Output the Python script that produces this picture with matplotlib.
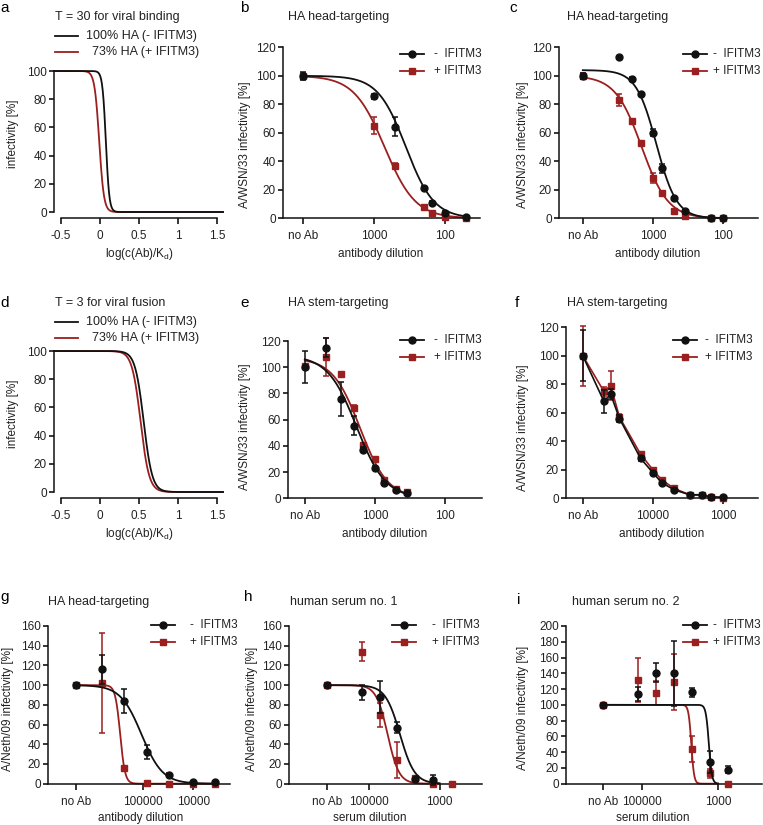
import numpy as np
import matplotlib
matplotlib.use("Agg")
import matplotlib.pyplot as plt
from matplotlib.lines import Line2D
from matplotlib.ticker import NullLocator

plt.rcParams["font.family"] = ["Liberation Sans", "DejaVu Sans"]
plt.rcParams["mathtext.fontset"] = "custom"
plt.rcParams["mathtext.rm"] = "Liberation Sans"

W, H = 763, 825
BLACK = "#111111"
RED = "#9b1f1f"
TXT = "#222222"

# ---- panels a / d: model curves (logistic: midpoint, width) ----
A_TITLE = "T = 30 for viral binding"
D_TITLE = "T = 3 for viral fusion"
A_FIT_NEG = (0.075, 0.022)
A_FIT_POS = (-0.01, 0.03)
D_FIT_NEG = (0.56, 0.055)
D_FIT_POS = (0.52, 0.055)
MODEL_XTICKS = [-0.5, 0, 0.5, 1, 1.5]
MODEL_XTICKLABELS = ["-0.5", "0", "0.5", "1", "1.5"]

# ---- panel b ----
B_NOAB = 1e4
B_DIL = [1000, 500, 200, 150, 100, 50]
B_NEG = [100, 85.5, 64.4, 21.5, 11, 4, 1]
B_NEG_ERR = [3, 1.5, 6.5, 1.5, 1, 1, 0.5]
B_POS = [100, 65, 37, 7.7, 3.5, 0.7, 0]
B_POS_ERR = [2, 6, 2, 1.5, 1, 0.5, 0]
B_FIT_NEG = (100, 2.55, 2.2)   # top, log IC50, hill
B_FIT_POS = (100, 2.85, 2.0)

# ---- panel c ----
C_NOAB = 1e4
C_DIL = [3000, 2000, 1500, 1000, 750, 500, 350, 150, 100]
C_NEG = [100, 113, 98, 87, 60, 35, 14, 5, 0, 0]
C_NEG_ERR = [2, 1, 1, 1, 2.5, 3, 1, 1, 0, 0]
C_POS = [100, 83, 68, 53, 28, 18, 5.4, 1.6, 0, 0]
C_POS_ERR = [2, 4, 1.5, 1, 3.5, 1.5, 1, 0.5, 0, 0]
C_FIT_NEG = (104, 2.95, 3.0)
C_FIT_POS = (100, 3.16, 2.3)

# ---- panel e ----
E_NOAB = 1e4
E_DIL = [5000, 3000, 2000, 1500, 1000, 750, 500, 350]
E_NEG = [100, 115, 76, 55.5, 37, 23, 12, 6, 4]
E_NEG_ERR = [12, 7, 13, 7.5, 2, 1.5, 1, 1, 1]
E_POS = [101, 108, 95, 69, 41, 30, 14, 7, 4.5]
E_POS_ERR = [1.5, 14.5, 1.5, 2.5, 1.5, 1, 1, 1, 0.5]
E_FIT_NEG = (109, 3.26, 2.1)
E_FIT_POS = (107, 3.21, 2.2)

# ---- panel f (points joined) ----
F_NOAB = 1e5
F_DIL = [50000, 40000, 30000, 15000, 10000, 7500, 5000, 3000, 2000, 1500, 1000]
F_NEG = [100, 68, 73, 56, 28, 18, 11, 6, 2.5, 2.5, 1, 0.7]
F_NEG_ERR = [18, 8, 3.5, 2.5, 1.5, 1, 1, 1, 0.5, 0.5, 0.5, 0.3]
F_POS = [100, 75, 79, 57, 31, 20, 13, 7, 2.5, 2, 1, 0.5]
F_POS_ERR = [21, 3, 10, 2, 1.5, 1, 1, 1, 0.5, 0.5, 0.5, 0.3]

# ---- panel g ----
G_NOAB = 2e6
G_DIL = [640000, 230000, 83000, 30000, 10000, 3700]
G_NEG = [100, 116, 84, 32, 9, 2, 2]
G_NEG_ERR = [0.5, 15, 12.5, 7, 1.5, 1, 1]
G_POS = [100, 102, 15.5, 1, 0, 0, 0]
G_POS_ERR = [0.5, 50.5, 1.5, 0.5, 0, 0, 0]
G_FIT_NEG = (100, 5.02, 2.1)
G_FIT_POS = (100, 5.44, 9.0)

# ---- panel h ----
H_NOAB = 1.55e6
H_DIL_NEG = [160000, 50000, 16000, 5000, 1500]
H_NEG = [100, 92.7, 88, 57, 4.7, 3.4]
H_NEG_ERR = [1, 7.5, 16, 5.5, 1.5, 5]
H_DIL_POS = [160000, 50000, 16000, 5000, 1500, 450]
H_POS = [100, 134, 70, 24, 5.4, 0, 0]
H_POS_ERR = [1, 10, 12, 18, 1.5, 0, 0]
H_FIT_NEG = (100, 4.12, 2.1)
H_FIT_POS = (100, 4.47, 2.7)

# ---- panel i ----
I_NOAB = 1e6
I_DIL = [123000, 41000, 14000, 4800, 1600, 540]
I_NEG = [100, 114, 141, 140, 116, 28, 18]
I_NEG_ERR = [1, 9, 12.5, 41, 6, 14, 5]
I_POS = [100, 132, 115, 129, 44, 13, 0]
I_POS_ERR = [1, 28, 15, 35, 16, 6, 0]
I_FIT_NEG = (100, 3.24, 11.0)
I_FIT_POS = (100, 3.70, 12.0)

fig = plt.figure(figsize=(W / 100, H / 100), dpi=100)


def px_axes(l, t, r, b):
    return fig.add_axes([l / W, 1 - b / H, (r - l) / W, (b - t) / H])


def ftext(x, y, s, **kw):
    kw.setdefault("va", "center")
    kw.setdefault("color", TXT)
    fig.text(x / W, 1 - y / H, s, **kw)


def fline(x0, x1, y, color, marker=None, ms=5):
    fig.add_artist(Line2D([x0 / W, x1 / W], [1 - y / H] * 2, transform=fig.transFigure,
                          color=color, lw=1.3))
    if marker:
        fig.add_artist(Line2D([(x0 + x1) / 2 / W], [1 - y / H], transform=fig.transFigure,
                              marker=marker, ms=ms, color=color, mec=color, lw=0))


def style(ax):
    for s in ("top", "right"):
        ax.spines[s].set_visible(False)
    for s in ("left", "bottom"):
        ax.spines[s].set_linewidth(1.1)
        ax.spines[s].set_color(BLACK)
    ax.tick_params(axis="y", length=3.5, width=1.1, pad=1.5, labelsize=8.5, labelcolor=TXT)
    ax.tick_params(axis="x", length=4.5, width=1.1, pad=4, labelsize=8.5, labelcolor=TXT)


def hill(d, top, logic50, h):
    return top / (1 + 10 ** ((logic50 - np.log10(d)) * h))


def model_panel(top, fit_neg, fit_pos, title, letter, ylab_y):
    ax = px_axes(54, top - 1.4, 223, top + 147)
    style(ax)
    xs = np.linspace(-0.59, 1.577, 400)
    for (x0, s), c in ((fit_pos, RED), (fit_neg, BLACK)):
        ax.plot(xs, 100 / (1 + np.exp((xs - x0) / s)), color=c, lw=1.3, clip_on=False)
    ax.set_xlim(-0.59, 1.577)
    ax.set_ylim(-4.25, 101)
    ax.set_yticks(range(0, 101, 20))
    ax.set_xticks(MODEL_XTICKS)
    ax.set_xticklabels(MODEL_XTICKLABELS)
    ax.spines["left"].set_bounds(0, 100)
    ax.spines["bottom"].set_bounds(-0.5, 1.5)
    ftext(0, top - 63 if letter == "a" else top - 48, letter, fontsize=11, color="black")
    ftext(55, top - 54 if letter == "a" else top - 48, title, fontsize=9)
    y1 = top - 35 if letter == "a" else top - 29
    fline(55, 78, y1, BLACK)
    ftext(86, y1, "100% HA (- IFITM3)", fontsize=9)
    fline(55, 78, y1 + 16, RED)
    ftext(92, y1 + 16, "73% HA (+ IFITM3)", fontsize=9)
    ftext(13, ylab_y, "infectivity [%]", fontsize=8.5, rotation=90, ha="center")
    ftext(140, top + 183, r"log(c(Ab)/K$_\mathregular{d}$)", fontsize=8.5, ha="center")
    return ax


def dose_panel(rect, xlim_log, yticks, noab, ticks, ticklabels,
               dil_neg, neg, neg_err, dil_pos, pos, pos_err,
               fit_neg=None, fit_pos=None, curve_end=None):
    ax = px_axes(*rect)
    style(ax)
    ax.set_xscale("log")
    xn = [noab] + list(dil_neg)
    xp = [noab] + list(dil_pos)
    if fit_neg is not None:
        d = np.logspace(np.log10(noab), curve_end, 300)
        ax.plot(d, hill(d, *fit_pos), color=RED, lw=1.3, zorder=2, clip_on=False)
        ax.plot(d, hill(d, *fit_neg), color=BLACK, lw=1.3, zorder=4, clip_on=False)
        ls = "none"
    else:
        ls = "-"
    ax.errorbar(xp, pos, yerr=pos_err, fmt="s", ls=ls, color=RED, ms=4.8, lw=1.2,
                elinewidth=1.1, capsize=2.3, capthick=1.1, zorder=3, clip_on=False)
    ax.errorbar(xn, neg, yerr=neg_err, fmt="o", ls=ls, color=BLACK, ms=5, lw=1.2,
                elinewidth=1.1, capsize=2.3, capthick=1.1, zorder=5, clip_on=False)
    ax.set_xlim(10 ** xlim_log[0], 10 ** xlim_log[1])
    ax.set_ylim(0, yticks[-1])
    ax.set_yticks(yticks)
    ax.set_xticks([noab] + ticks)
    ax.set_xticklabels(["no Ab"] + ticklabels)
    ax.xaxis.set_minor_locator(NullLocator())
    return ax


def dose_legend(x_marker, x_text, y):
    fline(x_marker - 12, x_marker + 12, y, BLACK, "o", 5)
    ftext(x_text, y, "-  IFITM3", fontsize=8.5)
    fline(x_marker - 12, x_marker + 12, y + 17, RED, "s", 4.8)
    ftext(x_text, y + 17, "+ IFITM3", fontsize=8.5)


# row 1
model_panel(71, A_FIT_NEG, A_FIT_POS, A_TITLE, "a", 134)
dose_panel((283, 47.3, 480, 218.3), (4.28, 1.507), list(range(0, 121, 20)), B_NOAB,
           [1000, 100], ["1000", "100"], B_DIL, B_NEG, B_NEG_ERR, B_DIL, B_POS, B_POS_ERR,
           B_FIT_NEG, B_FIT_POS, 1.7)
dose_panel((559, 47.3, 758, 218.3), (4.34, 1.5), list(range(0, 121, 20)), C_NOAB,
           [1000, 100], ["1000", "100"], C_DIL, C_NEG, C_NEG_ERR, C_DIL, C_POS, C_POS_ERR,
           C_FIT_NEG, C_FIT_POS, 2.0)

# row 2
model_panel(351, D_FIT_NEG, D_FIT_POS, D_TITLE, "d", 414)
dose_panel((288, 341, 482, 498.3), (4.24, 1.47), list(range(0, 121, 20)), E_NOAB,
           [1000, 100], ["1000", "100"], E_DIL, E_NEG, E_NEG_ERR, E_DIL, E_POS, E_POS_ERR,
           E_FIT_NEG, E_FIT_POS, np.log10(350))
dose_panel((566, 327.3, 758, 498.3), (5.24, 2.5), list(range(0, 121, 20)), F_NOAB,
           [10000, 1000], ["10000", "1000"], F_DIL, F_NEG, F_NEG_ERR, F_DIL, F_POS, F_POS_ERR)

# row 3
dose_panel((48, 626, 230, 783.7), (6.86, 3.28), list(range(0, 161, 20)), G_NOAB,
           [100000, 10000], ["100000", "10000"], G_DIL, G_NEG, G_NEG_ERR, G_DIL, G_POS,
           G_POS_ERR, G_FIT_NEG, G_FIT_POS, np.log10(3700))
dose_panel((289, 626, 482, 783.7), (7.26, 1.8), list(range(0, 161, 20)), H_NOAB,
           [100000, 1000], ["100000", "1000"], H_DIL_NEG, H_NEG, H_NEG_ERR, H_DIL_POS,
           H_POS, H_POS_ERR, H_FIT_NEG, H_FIT_POS, 3.0)
dose_panel((566, 626, 762, 783.7), (6.98, 1.85), list(range(0, 201, 20)), I_NOAB,
           [100000, 1000], ["100000", "1000"], I_DIL, I_NEG, I_NEG_ERR, I_DIL, I_POS,
           I_POS_ERR, I_FIT_NEG, I_FIT_POS, 3.0)

# letters, titles, legends, axis labels
for letter, x, y in (("b", 240, 8), ("c", 509, 8), ("e", 240, 303), ("f", 515, 303),
                     ("g", 0, 597), ("h", 244, 597), ("i", 517, 600)):
    ftext(x, y, letter, fontsize=11, color="black")

for x, y, s in ((288, 17, "HA head-targeting"), (567, 17, "HA head-targeting"),
                (288, 303, "HA stem-targeting"), (567, 303, "HA stem-targeting"),
                (48, 602, "HA head-targeting"), (290, 602, "human serum no. 1"),
                (572, 602, "human serum no. 2")):
    ftext(x, y, s, fontsize=9)

for xm, xt, y in ((412, 434, 54), (695, 713, 54), (412, 434, 340), (685, 705, 340),
                  (163, 190, 625), (404, 432, 625), (695, 713, 625)):
    dose_legend(xm, xt, y)

for x, y, s in ((245, 145, "A/WSN/33 infectivity [%]"), (523, 145, "A/WSN/33 infectivity [%]"),
                (245, 427, "A/WSN/33 infectivity [%]"), (523, 428, "A/WSN/33 infectivity [%]"),
                (8, 709, "A/Neth/09 infectivity [%]"), (252, 709, "A/Neth/09 infectivity [%]"),
                (523, 708, "A/Neth/09 infectivity [%]")):
    ftext(x, y, s, fontsize=8.5, rotation=90, ha="center")

for x, y, s in ((381, 254, "antibody dilution"), (658, 254, "antibody dilution"),
                (385, 534, "antibody dilution"), (662, 534, "antibody dilution"),
                (141, 818, "antibody dilution"), (370, 818, "serum dilution"),
                (653, 818, "serum dilution")):
    ftext(x, y, s, fontsize=8.5, ha="center")

fig.savefig("out.png", dpi=100)
